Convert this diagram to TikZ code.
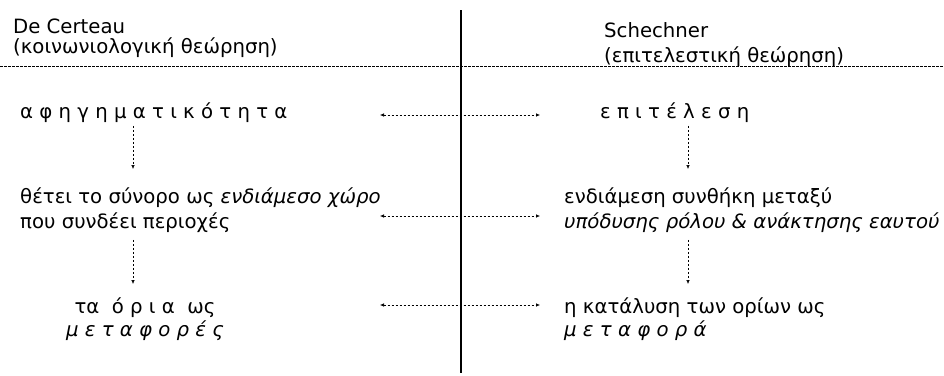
\documentclass[tikz,border=0pt]{standalone}
\usepackage{fontspec}
\setmainfont{DejaVu Sans}
\usetikzlibrary{arrows.meta}

\begin{document}
\begin{tikzpicture}[x=1pt,y=-1pt,
    txt/.style={anchor=base west,inner sep=0pt,align=left,font=\fontsize{19.7}{25}\selectfont},
    link/.style={{Latex[length=4pt,width=3.5pt]}-{Latex[length=4pt,width=3.5pt]},dash pattern=on 2.5pt off 1.5pt,line width=0.6pt},
    down/.style={-{Latex[length=4pt,width=3.5pt]},dash pattern=on 2.5pt off 1.5pt,line width=0.6pt}]
        \useasboundingbox (0,0) rectangle (944,375);
        % divider and header rule
        \draw[line width=1.2pt] (461,10) -- (461,373);
        \draw[dash pattern=on 2.5pt off 1.5pt,line width=0.7pt] (0,66) -- (944,66);
        % column heads (base = last line)
        \node[txt,font=\fontsize{19.7}{20}\selectfont] (certeau) at (13,53) {De Certeau\\(κοινωνιολογική θεώρηση)};
        \node[txt] (schechner) at (604,62) {Schechner\\(επιτελεστική θεώρηση)};
        % left column
        \node[txt] (narr) at (20,118) {α φ η γ η μ α τ ι κ ό τ η τ α};
        \node[txt] (border) at (20,228) {θέτει το σύνορο ως \textit{ενδιάμεσο χώρο}\\που συνδέει περιοχές};
        \node[txt,anchor=base,align=center,font=\fontsize{19.7}{23}\selectfont] (limits) at (145,336) {τα\ \ ό ρ ι α\ \ ως\\\textit{μ ε τ α φ ο ρ έ ς}};
        % right column
        \node[txt] (perf) at (600,118) {ε π ι τ έ λ ε σ η};
        \node[txt] (liminal) at (564,228) {ενδιάμεση συνθήκη μεταξύ\\\textit{υπόδυσης ρόλου \& ανάκτησης εαυτού}};
        \node[txt,font=\fontsize{19.7}{23}\selectfont] (dissol) at (564,336) {η κατάλυση των ορίων ως\\\textit{μ ε τ α φ ο ρ ά}};
        % guide columns for the connectors
        \coordinate (lx) at (380,0);
        \coordinate (rx) at (540,0);
        \coordinate (lv) at (133,0);
        \coordinate (rv) at (688,0);
        % links across the divider
        \draw[link] ([yshift=3pt]narr.base -| lx) -- ([yshift=3pt]perf.base -| rx);
        \draw[link] ([yshift=12pt]border.base -| lx) -- ([yshift=12pt]liminal.base -| rx);
        \draw[link] ([yshift=31pt]limits.base -| lx) -- ([yshift=31pt]dissol.base -| rx);
        % downward steps
        \draw[down,shorten <=3.5pt,shorten >=18pt] (narr.south -| lv) -- (border.north -| lv);
        \draw[down,shorten <=7.5pt,shorten >=13pt] (border.south -| lv) -- (limits.north -| lv);
        \draw[down,shorten <=3.5pt,shorten >=18pt] (perf.south -| rv) -- (liminal.north -| rv);
        \draw[down,shorten <=7.5pt,shorten >=13pt] (liminal.south -| rv) -- (dissol.north -| rv);
\end{tikzpicture}
\end{document}
